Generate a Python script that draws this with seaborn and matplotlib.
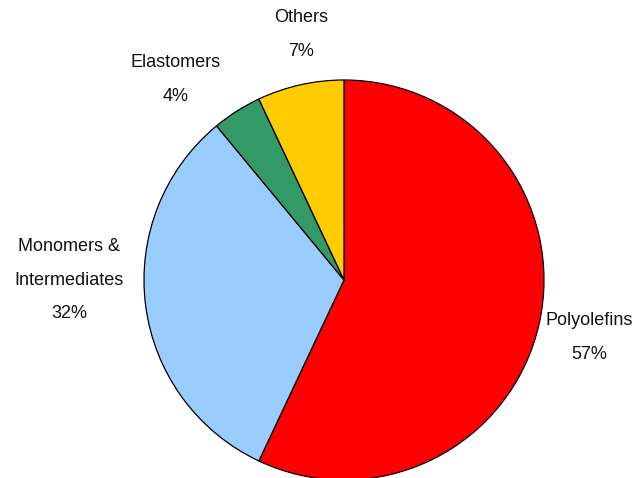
import numpy as np
import matplotlib
matplotlib.use("Agg")
import matplotlib.pyplot as plt
import seaborn as sns

categories = ["Polyolefins", "Monomers &\nIntermediates", "Elastomers", "Others"]
values = [57, 32, 4, 7]
colors = ["#FF0000", "#99CCFF", "#339966", "#FFCC00"]
label_dist = [1.26, 1.375, 1.31, 1.245]
label_rot = [-0.6, -7.2, 7.6, -2.6]

sns.set_theme(style="white")
plt.rcParams['font.family'] = ['Liberation Sans', 'DejaVu Sans']

fig = plt.figure(figsize=(6.37, 4.78), dpi=100)
W, H = 637, 478
cx, cy, r = 344, 280, 200
ax = fig.add_axes([(cx - r) / W, (H - cy - r) / H, 2 * r / W, 2 * r / H])

wedges, _ = ax.pie(values, colors=colors, startangle=90, counterclock=False,
                   wedgeprops=dict(edgecolor="black", linewidth=0.9))
ax.set_xlim(-1, 1)
ax.set_ylim(-1, 1)
ax.set_aspect("equal")
ax.axis("off")

for w, cat, v, d, rot in zip(wedges, categories, values, label_dist, label_rot):
    ang = np.deg2rad((w.theta1 + w.theta2) / 2 + rot)
    x, y = d * np.cos(ang), d * np.sin(ang)
    ax.text(x, y, f"{cat}\n{v}%", ha="center", va="center", fontsize=13,
            linespacing=2.3, color="#111111", clip_on=False)

fig.savefig("out.png", dpi=100, facecolor="white")
